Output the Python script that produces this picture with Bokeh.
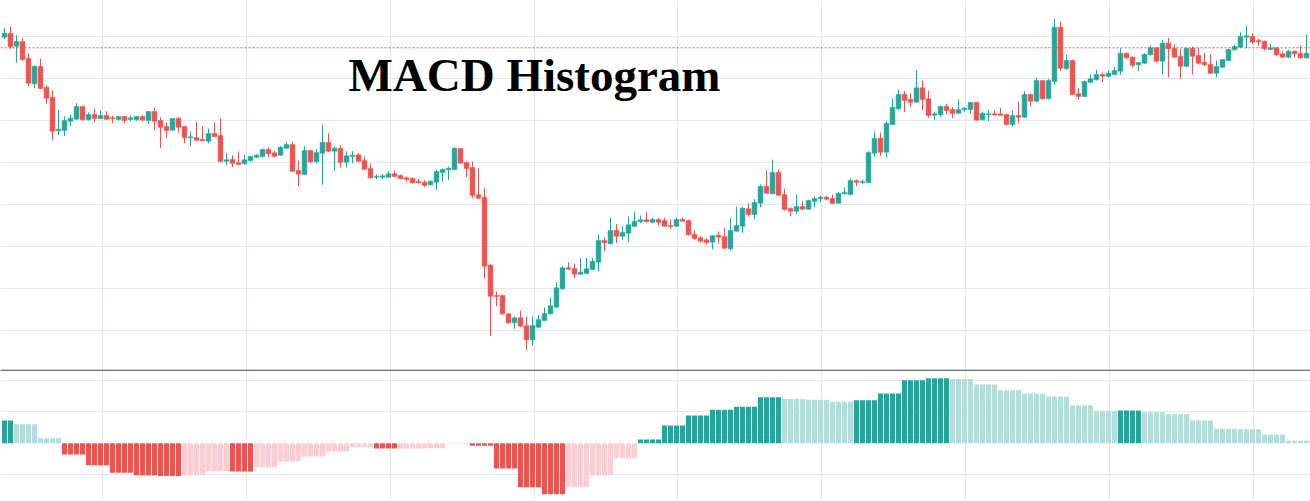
import numpy as np
from bokeh.plotting import figure
from bokeh.layouts import column
from bokeh.models import ColumnDataSource, Range1d, FixedTicker, Span, Label
from bokeh.embed import file_html
from bokeh.resources import INLINE

# ---------------- data (hourly candles) ----------------
open_ = [363.3, 367.3, 354.3, 359.0, 342.0, 316.7, 334.0, 313.3, 303.3, 269.7,
         270.0, 279.3, 281.3, 294.0, 280.7, 286.0, 282.0, 285.0, 282.7, 281.0,
         284.0, 281.0, 280.7, 284.0, 280.0, 289.0, 280.0, 274.0, 270.3, 282.3,
         274.0, 262.7, 263.0, 261.0, 259.3, 267.0, 265.0, 239.3, 241.0, 237.7,
         236.7, 240.0, 243.3, 244.0, 251.0, 247.7, 245.3, 252.3, 256.0, 230.0,
         226.0, 250.0, 238.7, 247.3, 258.0, 249.3, 252.0, 238.3, 244.0, 245.7,
         240.0, 232.0, 223.3, 223.3, 223.3, 226.7, 225.0, 222.7, 222.0, 219.0,
         218.3, 215.7, 218.3, 228.0, 230.7, 231.0, 252.0, 238.0, 233.0, 205.7,
         203.3, 135.3, 105.0, 105.0, 86.7, 77.7, 82.7, 74.7, 60.7, 73.3,
         80.0, 86.7, 93.3, 111.7, 132.7, 132.0, 126.3, 127.0, 131.0, 138.3,
         160.0, 156.7, 170.0, 164.3, 167.3, 174.3, 178.7, 180.7, 178.3, 181.0,
         180.0, 175.0, 174.3, 181.0, 180.0, 166.3, 162.7, 160.7, 158.3, 165.3,
         164.0, 151.7, 169.3, 174.3, 191.7, 186.0, 197.3, 214.3, 206.7, 228.0,
         206.0, 192.0, 189.3, 194.0, 191.3, 199.3, 201.7, 203.3, 202.0, 197.3,
         206.7, 206.0, 220.0, 218.0, 218.0, 247.3, 262.3, 248.3, 276.0, 291.7,
         306.0, 301.3, 298.3, 312.7, 301.7, 285.3, 285.7, 294.0, 291.0, 287.3,
         290.7, 291.0, 298.0, 280.7, 285.7, 286.7, 286.7, 286.0, 276.0, 285.0,
         283.3, 306.0, 299.3, 320.0, 301.7, 319.0, 373.3, 331.7, 340.0, 306.7,
         304.0, 318.3, 320.7, 326.0, 324.0, 326.0, 329.3, 347.3, 343.3, 335.7,
         337.3, 345.7, 352.7, 339.3, 357.3, 352.3, 344.0, 334.3, 352.3, 345.0,
         338.3, 336.0, 327.3, 333.3, 340.0, 350.7, 353.3, 363.3, 364.0, 360.0,
         359.3, 351.0, 352.7, 346.7, 343.3, 349.3, 347.3, 342.7]
high = [372.7, 374.0, 365.3, 362.7, 347.3, 335.0, 342.0, 315.3, 310.0, 290.0,
        284.0, 286.0, 297.3, 294.7, 288.0, 291.7, 290.0, 289.3, 284.7, 284.3,
        284.3, 285.0, 284.3, 285.3, 289.0, 292.7, 283.3, 278.0, 282.0, 283.3,
        274.7, 269.0, 279.0, 274.0, 272.0, 278.0, 282.0, 247.7, 245.3, 249.0,
        246.0, 244.7, 246.3, 251.7, 253.3, 249.3, 254.3, 258.3, 259.0, 240.0,
        254.3, 250.0, 251.7, 276.0, 267.3, 254.0, 255.7, 249.3, 249.3, 247.3,
        244.0, 237.0, 226.0, 226.3, 229.0, 230.0, 226.0, 224.0, 223.3, 221.7,
        220.3, 220.0, 230.7, 232.0, 234.0, 253.3, 252.0, 239.3, 239.0, 232.0,
        212.3, 136.7, 109.0, 105.7, 87.3, 84.0, 90.0, 84.0, 84.0, 85.7,
        93.0, 103.3, 118.3, 134.3, 138.0, 136.7, 142.3, 142.7, 142.3, 166.0,
        163.3, 183.3, 176.7, 174.3, 184.0, 189.0, 185.0, 188.3, 182.7, 182.3,
        182.7, 181.0, 182.7, 182.7, 180.7, 170.0, 164.3, 162.3, 165.7, 169.0,
        172.7, 182.3, 194.0, 194.0, 197.3, 201.3, 216.0, 230.0, 241.0, 230.7,
        211.7, 193.3, 206.0, 199.3, 200.7, 204.0, 205.0, 204.7, 206.0, 208.3,
        213.0, 221.7, 220.7, 221.0, 249.3, 269.0, 268.0, 279.3, 301.7, 310.7,
        309.3, 307.3, 330.0, 320.0, 310.0, 289.0, 295.0, 296.7, 293.3, 301.0,
        293.3, 298.3, 298.3, 289.0, 290.7, 290.0, 292.7, 286.7, 290.0, 299.0,
        309.3, 306.7, 322.7, 320.0, 321.7, 381.7, 378.7, 345.7, 340.7, 312.7,
        320.0, 326.0, 330.7, 328.0, 330.0, 334.0, 352.3, 348.0, 344.3, 338.0,
        347.3, 355.0, 353.3, 360.7, 362.7, 356.0, 351.7, 352.3, 354.0, 352.7,
        347.7, 346.0, 340.0, 341.0, 351.7, 356.0, 368.3, 375.0, 367.3, 361.7,
        360.0, 356.7, 353.3, 349.3, 350.7, 350.0, 355.0, 366.0]
low = [361.3, 351.7, 338.0, 339.3, 314.3, 312.3, 311.3, 296.7, 260.7, 265.3,
       264.3, 274.3, 280.7, 280.0, 280.0, 278.3, 281.3, 280.7, 277.3, 280.0,
       277.3, 279.3, 280.0, 279.3, 276.7, 270.0, 252.3, 262.7, 270.0, 268.0,
       257.3, 254.3, 260.0, 259.3, 257.3, 263.3, 238.0, 235.7, 233.3, 235.3,
       236.0, 238.7, 242.3, 243.0, 243.3, 243.3, 245.0, 251.7, 228.7, 214.3,
       226.0, 237.3, 237.3, 215.7, 248.7, 230.0, 233.0, 233.0, 237.3, 238.3,
       230.7, 222.0, 221.3, 221.3, 222.7, 223.3, 221.3, 218.7, 217.0, 217.0,
       213.3, 215.0, 210.7, 219.0, 220.7, 230.0, 236.7, 223.3, 202.3, 201.3,
       121.7, 64.3, 94.3, 86.0, 76.7, 71.7, 73.3, 50.7, 55.0, 72.7,
       80.0, 86.0, 92.0, 110.7, 130.7, 122.3, 125.7, 126.3, 130.3, 129.3,
       149.3, 156.0, 157.3, 160.7, 158.3, 173.3, 177.7, 178.3, 177.3, 175.0,
       174.0, 171.7, 174.0, 178.7, 165.0, 160.7, 157.7, 156.0, 151.3, 156.7,
       151.7, 150.0, 168.7, 167.7, 184.0, 181.3, 193.3, 206.7, 206.7, 204.3,
       190.0, 184.3, 186.7, 190.7, 190.7, 193.3, 198.0, 200.7, 196.7, 196.7,
       206.0, 205.0, 214.3, 216.7, 217.7, 243.3, 244.7, 243.3, 276.0, 290.7,
       288.3, 293.3, 297.7, 290.0, 282.7, 280.7, 283.7, 286.3, 282.3, 286.7,
       289.0, 286.7, 280.0, 280.0, 279.3, 285.0, 285.0, 275.0, 274.0, 277.3,
       282.7, 294.0, 298.3, 301.0, 301.3, 315.7, 329.3, 331.0, 305.7, 301.0,
       303.7, 317.3, 320.0, 318.3, 322.7, 325.3, 325.7, 341.7, 333.3, 329.3,
       336.7, 345.0, 338.3, 326.0, 323.3, 342.7, 321.7, 333.3, 326.0, 336.0,
       334.7, 326.7, 323.3, 332.7, 340.0, 350.0, 352.7, 352.3, 356.7, 354.7,
       350.0, 350.3, 344.7, 342.7, 342.7, 343.3, 341.7, 342.0]
close = [367.3, 354.0, 359.0, 341.0, 317.3, 334.3, 312.0, 302.3, 269.3, 271.3,
         280.0, 282.3, 294.0, 280.7, 286.0, 282.0, 285.0, 281.3, 281.7, 284.0,
         280.0, 282.7, 284.0, 280.7, 289.0, 279.3, 273.3, 270.0, 282.0, 273.3,
         262.7, 263.7, 260.3, 259.7, 267.0, 264.0, 239.0, 240.7, 237.3, 236.0,
         240.7, 244.0, 245.3, 251.0, 246.7, 244.3, 253.3, 256.0, 229.3, 226.3,
         250.0, 238.7, 248.0, 258.0, 249.3, 252.3, 238.3, 244.7, 245.3, 239.3,
         231.3, 222.7, 224.3, 224.7, 226.7, 224.0, 222.0, 221.0, 217.7, 217.7,
         215.0, 219.3, 229.0, 231.0, 232.3, 252.3, 237.3, 232.0, 205.0, 202.3,
         134.3, 104.3, 104.0, 86.7, 77.7, 82.7, 74.3, 60.7, 75.0, 81.0,
         87.0, 94.7, 112.7, 132.7, 131.3, 126.3, 128.3, 131.7, 139.3, 160.0,
         157.7, 170.0, 164.3, 168.0, 175.7, 179.3, 180.7, 178.7, 181.0, 178.3,
         174.3, 174.0, 181.0, 179.3, 165.7, 162.0, 159.3, 158.0, 164.7, 163.3,
         152.3, 170.0, 175.0, 192.3, 186.0, 198.0, 214.3, 207.3, 228.0, 205.3,
         191.0, 189.3, 194.0, 191.3, 200.0, 202.0, 203.3, 201.3, 197.0, 207.3,
         208.3, 220.0, 218.3, 219.0, 248.0, 262.3, 248.3, 277.3, 293.3, 306.0,
         300.0, 298.3, 312.7, 301.0, 285.0, 286.7, 294.0, 290.0, 287.0, 291.0,
         292.3, 298.0, 280.3, 287.3, 286.7, 285.7, 285.3, 276.0, 285.0, 283.3,
         306.0, 299.3, 320.0, 301.7, 320.0, 373.3, 332.3, 340.0, 306.0, 304.0,
         319.0, 321.7, 326.0, 324.3, 327.3, 330.0, 347.3, 342.7, 335.3, 338.0,
         346.0, 352.7, 339.3, 357.3, 351.7, 343.3, 334.3, 352.3, 344.3, 337.3,
         335.7, 327.3, 334.0, 341.0, 351.0, 354.0, 364.0, 364.7, 358.3, 358.7,
         351.7, 352.7, 345.7, 343.3, 349.3, 346.7, 342.7, 347.3]

# MACD histogram of the 4-hour series, drawn under the hourly candles
macd_hist_4h = [0.36, 0.30, 0.08, -0.18, -0.35, -0.47, -0.51, -0.52, -0.51, -0.44,
                -0.45, -0.38, -0.29, -0.21, -0.13, -0.06, -0.085, -0.083, -0.08, -0.01,
                -0.04, -0.40, -0.70, -0.81, -0.69, -0.51, -0.24, 0.06, 0.28, 0.44,
                0.53, 0.58, 0.73, 0.70, 0.69, 0.66, 0.68, 0.79, 1.00, 1.03,
                1.02, 0.93, 0.84, 0.79, 0.74, 0.60, 0.515, 0.52, 0.49, 0.46,
                0.36, 0.23, 0.22, 0.14, 0.04]
# number of hourly candles covered by each 4-hour histogram value
hist_span = [2, 4, 4, 4, 4, 4, 4, 4, 4, 4, 4, 4, 4, 4, 4, 4, 4, 4, 4, 4,
             4, 4, 4, 4, 4, 4, 4, 4, 4, 4, 4, 4, 4, 4, 4, 4, 4, 4, 4, 4,
             4, 4, 4, 4, 4, 4, 4, 4, 4, 4, 4, 4, 4, 4, 4]

last_price_level = 352.7
price_ticks = [70, 112, 154, 196, 238, 280, 322, 364]
session_ticks = [16.25, 40.25, 64.25, 88.25, 112.25, 136.25, 160.25, 184.25, 208.25]
hist_ticks = [-0.5, 0.5, 1.0]

# ---------------- styling ----------------
UP = "#26a69a"
DOWN = "#ef5350"
UP_LIGHT = "#b2dfdb"
DOWN_LIGHT = "#ffcdd2"
GRID = "#e0eaef"
W = 1310
H_TOP = 369
H_BOT = 132

o = np.array(open_)
h = np.array(high)
l = np.array(low)
c = np.array(close)
n = len(o)
xs = np.arange(n)
cols = np.where(c >= o, UP, DOWN)
csrc = ColumnDataSource(dict(x=xs, high=h, low=l, top=np.maximum(o, c),
                             bottom=np.minimum(o, c), color=cols))

# histogram colours by direction of change
gcols = []
prev = None
for v in macd_hist_4h:
    if v >= 0:
        gcols.append(UP if (prev is None or v > prev) else UP_LIGHT)
    else:
        gcols.append(DOWN if (prev is None or v < prev) else DOWN_LIGHT)
    prev = v
hvals = np.repeat(np.array(macd_hist_4h), hist_span)
hcols = np.repeat(np.array(gcols), hist_span)
hsrc = ColumnDataSource(dict(x=np.arange(len(hvals)), top=hvals, color=hcols))

xr = Range1d(-0.667, 217.667)


def base(height, yr):
    f = figure(width=W, height=height, x_range=xr, y_range=yr,
               output_backend="svg", toolbar_location=None, tools="",
               min_border=0, min_border_left=0, min_border_right=0,
               min_border_top=0, min_border_bottom=0)
    f.outline_line_color = None
    f.background_fill_color = "white"
    f.border_fill_color = "white"
    f.xaxis.visible = False
    f.yaxis.visible = False
    f.xaxis.ticker = FixedTicker(ticks=session_ticks)
    f.xgrid.grid_line_color = GRID
    f.ygrid.grid_line_color = GRID
    f.xgrid.grid_line_width = 1
    f.ygrid.grid_line_width = 1
    return f


# ---- candles ----
p = base(H_TOP, Range1d(31, 400))
p.yaxis.ticker = FixedTicker(ticks=price_ticks)
p.segment(x0="x", y0="high", x1="x", y1="low", source=csrc,
          line_color="color", line_width=1)
p.vbar(x="x", top="top", bottom="bottom", width=0.8, source=csrc,
       fill_color="color", line_color="color", line_width=0.5)
p.add_layout(Span(location=last_price_level, dimension="width",
                  line_color="#e0504d", line_dash="2 2", line_width=1))
p.add_layout(Label(x=534, y=295, x_units="screen", y_units="screen",
                   text="MACD Histogram", text_font="Liberation Serif",
                   text_font_style="bold", text_font_size="47px",
                   text_align="center", text_baseline="alphabetic",
                   text_color="#000000"))

# ---- histogram ----
q = base(H_BOT, Range1d(-0.925, 1.170))
q.yaxis.ticker = FixedTicker(ticks=hist_ticks)
q.vbar(x="x", top="top", bottom=0, width=0.84, source=hsrc,
       fill_color="color", line_color=None)
q.add_layout(Span(location=1.160, dimension="width",
                  line_color="#444444", line_width=1.3))

layout = column(p, q, spacing=0)
open("out.html", "w").write(file_html(layout, INLINE))
